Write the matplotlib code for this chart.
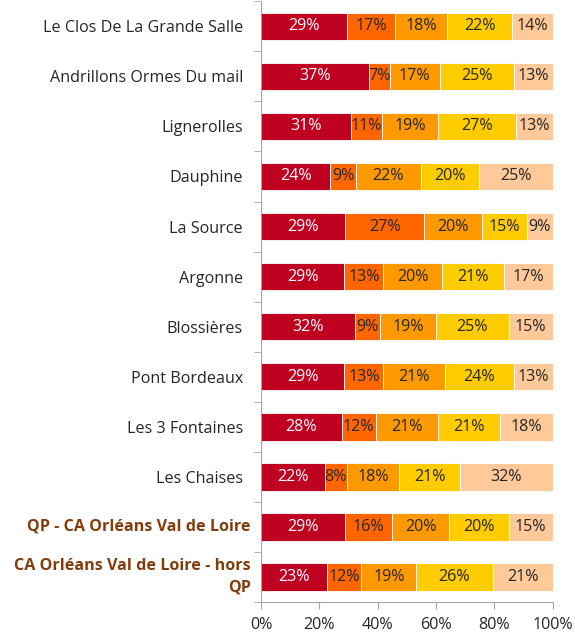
import numpy as np
import matplotlib.pyplot as plt
from matplotlib.ticker import FixedLocator, PercentFormatter

plt.rcParams['font.family'] = ['Open Sans', 'DejaVu Sans']

# categories, top to bottom
categories = [
    "Le Clos De La Grande Salle",
    "Andrillons Ormes Du mail",
    "Lignerolles",
    "Dauphine",
    "La Source",
    "Argonne",
    "Blossières",
    "Pont Bordeaux",
    "Les 3 Fontaines",
    "Les Chaises",
    "QP - CA Orléans Val de Loire",
    "CA Orléans Val de Loire - hors\nQP",
]
highlight = [False] * 10 + [True, True]

# shares per segment (%)
seg1 = [29.45, 36.9, 30.8, 23.8, 28.9, 28.6, 32.3, 28.6, 27.7, 21.8, 28.9, 22.7]
seg2 = [16.55, 7.2, 10.6, 8.8, 27.1, 13.4, 8.6, 13.4, 11.6, 7.8, 15.9, 11.7]
seg3 = [17.8, 17.2, 19.4, 22.1, 19.7, 20.2, 19.2, 21.0, 21.3, 17.8, 19.8, 18.9]
seg4 = [22.4, 25.3, 26.6, 19.9, 15.4, 21.0, 24.8, 23.6, 21.3, 21.0, 20.3, 26.1]
seg5 = [13.8, 13.4, 12.6, 25.4, 8.9, 16.8, 15.1, 13.4, 18.1, 31.6, 15.1, 20.6]

series = [seg1, seg2, seg3, seg4, seg5]
colors = ['#C00020', '#FF6600', '#FF9900', '#FFCC00', '#FFC999']
text_colors = ['white', '#262626', '#262626', '#262626', '#262626']
FS = 11.6
AXIS_GREY = '#A6A6A6'

fig = plt.figure(figsize=(5.75, 6.32), dpi=100)
ax = fig.add_axes([0.454, 0.0475, 0.507, 0.9505])

y = np.arange(len(categories))
left = np.zeros(len(categories))
for vals, col, tcol in zip(series, colors, text_colors):
    vals = np.array(vals)
    ax.barh(y, vals, left=left, height=0.55, color=col, edgecolor='white', linewidth=0.6)
    for yi, l, v in zip(y, left, vals):
        ax.text(l + v / 2, yi, f"{round(v)}%", ha='center', va='center',
                fontsize=FS, color=tcol)
    left += vals

ax.set_xlim(0, 100)
ax.set_ylim(len(categories) - 0.5, -0.5)

ax.set_xticks(np.arange(0, 101, 20))
ax.xaxis.set_major_formatter(PercentFormatter(decimals=0))
ax.tick_params(axis='x', length=5, color=AXIS_GREY, labelsize=FS, labelcolor='#262626', pad=5.5)

# plain labels as tick labels, highlighted ones drawn closer to the axis
ax.set_yticks(y)
ax.set_yticklabels([c if not h else "" for c, h in zip(categories, highlight)])
ax.yaxis.set_minor_locator(FixedLocator(np.arange(-0.5, len(categories), 1)))
ax.tick_params(axis='y', which='major', length=0, pad=13, labelsize=FS, labelcolor='#262626')
ax.tick_params(axis='y', which='minor', length=5, color=AXIS_GREY)
for yi, c, h in zip(y, categories, highlight):
    if h:
        ax.text(-0.035, yi, c, transform=ax.get_yaxis_transform(), ha='right', va='center',
                fontsize=FS, fontweight='bold', color='#843C0C', linespacing=1.45)

for s in ['top', 'right']:
    ax.spines[s].set_visible(False)
for s in ['left', 'bottom']:
    ax.spines[s].set_color(AXIS_GREY)

fig.savefig('out.png', dpi=100)
